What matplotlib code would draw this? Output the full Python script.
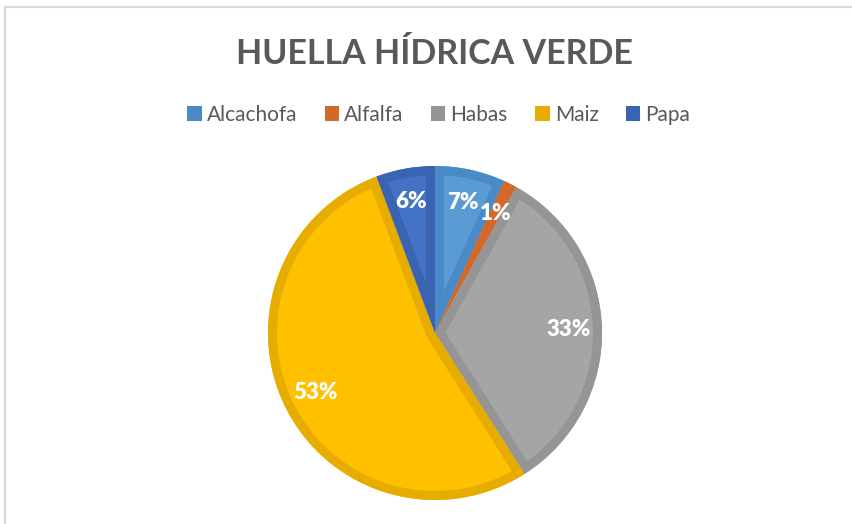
import matplotlib.pyplot as plt
from matplotlib.patches import Patch, Wedge
from matplotlib.lines import Line2D

# data
crops = ['Alcachofa', 'Alfalfa', 'Habas', 'Maiz', 'Papa']
shares = [6.8, 1.3, 32.9, 53.3, 5.7]
fill_colors = ['#5B9BD5', '#ED7D31', '#A5A5A5', '#FFC000', '#4472C4']
edge_colors = ['#4A8AC6', '#D2692A', '#959595', '#E6AC00', '#3A64B2']

plt.rcParams['font.family'] = ['Lato', 'DejaVu Sans']

fig = plt.figure(figsize=(8.52, 5.24), dpi=100)

# light frame like the spreadsheet chart area
fig.add_artist(Line2D([5 / 852, 1], [1 - 7 / 524, 1 - 7 / 524], color='#D9D9D9', lw=1.5))
fig.add_artist(Line2D([5 / 852, 5 / 852], [0, 1 - 7 / 524], color='#D9D9D9', lw=1.5))

# pie axes: centre at (435, 333) px, radius 167 px
cx, cy, r = 435, 333, 167
ax = fig.add_axes([(cx - r) / 852, (524 - cy - r) / 524, 2 * r / 852, 2 * r / 524])

wedges, texts, autotexts = ax.pie(
    shares, colors=fill_colors, startangle=90, counterclock=False,
    autopct='%.0f%%', pctdistance=0.8,
    wedgeprops=dict(linewidth=0),
    textprops=dict(color='white', fontsize=16, fontweight='heavy'))

# thick inner border in a darker shade, clipped to each wedge
for w, ec in zip(wedges, edge_colors):
    b = Wedge(w.center, w.r, w.theta1, w.theta2, facecolor='none',
              edgecolor=ec, linewidth=13, zorder=w.get_zorder() + 0.1)
    ax.add_patch(b)
    b.set_clip_path(w)

for t in autotexts:
    t.set_zorder(5)

ax.set_xlim(-1, 1)
ax.set_ylim(-1, 1)
ax.set_aspect('equal')

fig.text(0.51, 1 - 54 / 524, 'HUELLA HÍDRICA VERDE', ha='center', va='center',
         fontsize=24.5, fontweight='bold', color='#595959')

handles = [Patch(facecolor=c, edgecolor='none') for c in edge_colors]
fig.legend(handles, crops, loc='center', bbox_to_anchor=(0.515, 1 - 115 / 524),
           ncol=5, frameon=False, fontsize=15, handlelength=0.7, handleheight=0.7,
           handletextpad=0.25, columnspacing=1.3, labelcolor='#595959')

plt.savefig('out.png', dpi=100)
